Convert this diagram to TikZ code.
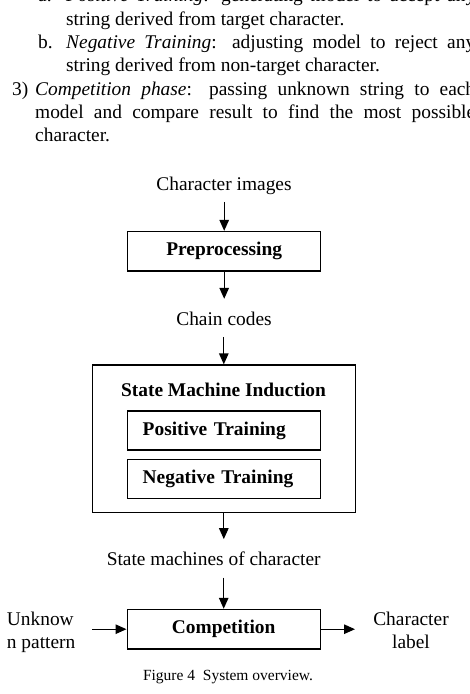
\documentclass[tikz,border=0pt]{standalone}
\usepackage{fontspec}
\setmainfont{Liberation Serif}
\usetikzlibrary{arrows.meta}
\begin{document}
\begin{tikzpicture}[x=1pt,y=1pt,
  every node/.style={inner sep=0pt, font=\fontsize{19.4}{23.3}\selectfont},
  txt/.style={anchor=base west},
  lbl/.style={anchor=base, text height=14pt, text depth=5pt},
  box/.style={draw, line width=1.4pt, minimum width=193pt, minimum height=39.5pt, font=\fontsize{19.4}{23.3}\selectfont\bfseries},
  arr/.style={line width=1.3pt, -{Triangle[length=11pt,width=9.5pt]}},
]
\useasboundingbox (0,0) rectangle (470,-694);
\clip (0,0) rectangle (470,-694);
% paragraph
\node[txt] (la) at (38,-1.5) {a.};
\node[txt] (pa) at (66,-1.5) {\makebox[409pt][s]{\textit{Positive Training}: generating model to accept any}};
\node[txt] (pa2) at (66,-25.5) {string derived from target character.};
\node[txt] (lb) at (38,-48) {b.};
\node[txt] (pb) at (66,-48) {\makebox[409pt][s]{\textit{Negative Training}: adjusting model to reject any}};
\node[txt] (pb2) at (66,-71.5) {string derived from non-target character.};
\node[txt] (l3) at (12,-95) {3)};
\node[txt] (p3) at (35,-95) {\makebox[440pt][s]{\textit{Competition phase}: passing unknown string to each}};
\node[txt] (p32) at (35,-118) {\makebox[440pt][s]{model and compare result to find the most possible}};
\node[txt] (p33) at (35,-141) {character.};
% diagram
\node[lbl] (cimg) at (224,-190.7) {Character images};
\node[box] (pre) at (224.2,-251.3) {Preprocessing};
\node[lbl] (chain) at (224,-325.7) {Chain codes};
\node[draw, line width=1.4pt, minimum width=263pt, minimum height=147.3pt] (smi) at (223.8,-438.7) {};
\node[lbl, font=\fontsize{19.4}{23.3}\selectfont\bfseries] (smit) at (223.5,-396) {State Machine Induction};
\node[box, text width=162pt, align=left, inner xsep=15.4pt, minimum height=39pt] (pos) at (223.7,-430.5) {Positive Training};
\node[box, text width=162pt, align=left, inner xsep=15.4pt, minimum height=39pt] (neg) at (223.7,-478.7) {Negative Training};
\node[lbl] (smc) at (213.7,-565.7) {State machines of character};
\node[box] (comp) at (223.7,-629.2) {Competition};
\node[txt] (unk1) at (6.7,-625) {Unknow};
\node[txt] (unk2) at (6.7,-648.3) {n pattern};
\node[anchor=base] (cl1) at (411,-625) {Character};
\node[anchor=base] (cl2) at (411,-648.3) {label};
\coordinate (uin) at (92.3,-630);
\coordinate (cout) at (355,-630);
\node[anchor=base, font=\fontsize{15.5}{18}\selectfont] (cap) at (228,-680) {Figure 4\ \ System overview.};
% arrows
\draw[arr, shorten <=6pt] (cimg.south -| pre.north) -- (pre.north);
\draw[arr, shorten >=12.7pt] (pre.south) -- (chain.north -| pre.south);
\draw[arr, shorten <=6pt] (chain.south -| smi.north) -- (smi.north);
\draw[arr, shorten >=12.4pt] (smi.south) -- (smc.north -| smi.south);
\draw[arr, shorten <=6.6pt] (smc.south -| comp.north) -- (comp.north);
\draw[arr] (uin |- comp.west) -- (comp.west);
\draw[arr] (comp.east) -- (cout |- comp.east);
\end{tikzpicture}
\end{document}
